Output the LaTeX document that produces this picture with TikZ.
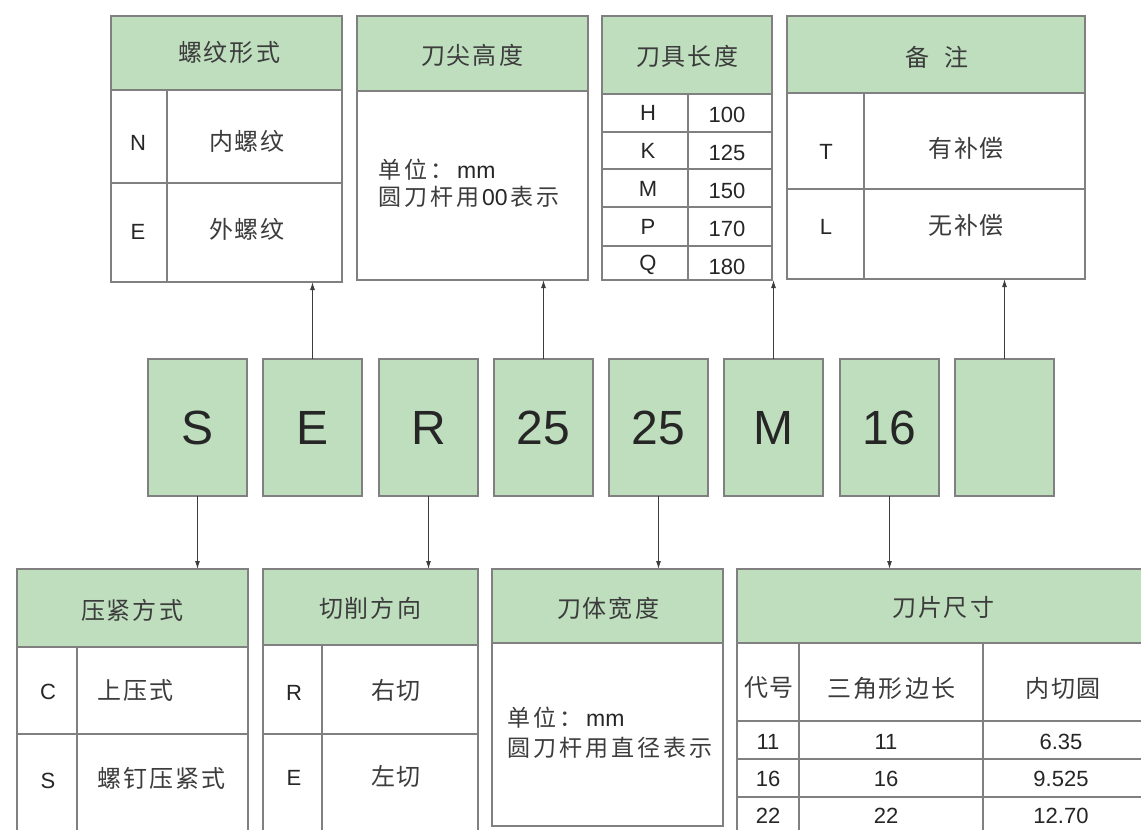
\documentclass[tikz,border=0pt]{standalone}
\usepackage{fontspec}
\setmainfont{Liberation Sans}
\newfontfamily\cjk{Noto Sans CJK SC}
\usetikzlibrary{arrows.meta}
\definecolor{hdrgreen}{RGB}{190,222,190}
\definecolor{linegray}{RGB}{128,128,128}
\definecolor{txt}{RGB}{38,38,38}
\definecolor{cjktxt}{RGB}{60,60,60}
\definecolor{arrgray}{RGB}{60,60,60}
\def\mykern{2pt}
\def\mylsB#1#2{#1\ifx#2\relax\else\kern\mykern\expandafter\mylsB\expandafter#2\fi}
\newcommand\myls[1]{\mylsB#1\relax}
\tikzset{
  cellbox/.style={draw=linegray, line width=1.1pt, inner sep=0pt, outer sep=0pt, anchor=north west},
  hd/.style={cellbox, fill=hdrgreen},
  cl/.style={cellbox, fill=white},
  codebox/.style={cellbox, fill=hdrgreen, minimum width=99pt, minimum height=137pt,
     font=\fontsize{48}{50}\selectfont, text=txt},
  cn/.style={inner sep=0pt, text=cjktxt, font=\cjk\fontsize{24}{28}\selectfont},
  lt/.style={inner sep=0pt, text=txt, font=\fontsize{22}{26}\selectfont},
  note/.style={inner sep=0pt, anchor=west, text=txt, font=\fontsize{23}{27}\selectfont\def\mykern{3pt}},
  arr/.style={draw=arrgray, line width=1pt, -{Latex[length=8pt,width=5pt]}}
}
\begin{document}
\begin{tikzpicture}[x=1pt,y=-1pt]
\path[use as bounding box] (0,0) rectangle (1141,830);
\clip (0,0) rectangle (1141,830);

% ---------- Table 1: 螺纹形式 ----------
\node[hd, minimum width=231pt, minimum height=74pt] (t1h) at (111,16) {};
\node[cl, minimum width=56pt, minimum height=93pt] (t1a1) at (111,90) {};
\node[cl, minimum width=175pt, minimum height=93pt] (t1b1) at (167,90) {};
\node[cl, minimum width=56pt, minimum height=99pt] (t1a2) at (111,183) {};
\node[cl, minimum width=175pt, minimum height=99pt] (t1b2) at (167,183) {};
\node[cn] (t1ht) at (229,52) {\myls{螺纹形式}};
\node[lt] (t1n) at (138,143) {N};
\node[cn] (t1nt) at (247,141) {\myls{内螺纹}};
\node[lt] (t1e) at (138,232) {E};
\node[cn] (t1et) at (247,229) {\myls{外螺纹}};

% ---------- Table 2: 刀尖高度 ----------
\node[hd, minimum width=231pt, minimum height=75pt] (t2h) at (357,16) {};
\node[cl, minimum width=231pt, minimum height=189pt] (t2b) at (357,91) {};
\node[cn] (t2ht) at (472,55) {\myls{刀尖高度}};
\node[note] (t2l1) at (378,170) {{\cjk\color{cjktxt}\myls{单位：}}\kern4pt mm};
\node[note] (t2l2) at (378,197) {{\cjk\color{cjktxt}\myls{圆刀杆用}}\kern3pt 00\kern3pt{\cjk\color{cjktxt}\myls{表示}}};

% ---------- Table 3: 刀具长度 ----------
\node[hd, minimum width=170pt, minimum height=78pt] (t3h) at (602,16) {};
\node[cl, minimum width=86pt, minimum height=38pt] (t3a1) at (602,94) {};
\node[cl, minimum width=84pt, minimum height=38pt] (t3b1) at (688,94) {};
\node[cl, minimum width=86pt, minimum height=37pt] (t3a2) at (602,132) {};
\node[cl, minimum width=84pt, minimum height=37pt] (t3b2) at (688,132) {};
\node[cl, minimum width=86pt, minimum height=38pt] (t3a3) at (602,169) {};
\node[cl, minimum width=84pt, minimum height=38pt] (t3b3) at (688,169) {};
\node[cl, minimum width=86pt, minimum height=39pt] (t3a4) at (602,207) {};
\node[cl, minimum width=84pt, minimum height=39pt] (t3b4) at (688,207) {};
\node[cl, minimum width=86pt, minimum height=34pt] (t3a5) at (602,246) {};
\node[cl, minimum width=84pt, minimum height=34pt] (t3b5) at (688,246) {};
\node[cn] (t3ht) at (687,56) {\myls{刀具长度}};
\node[lt] (t3k1) at (648,113) {H};
\node[lt] (t3v1) at (727,115) {100};
\node[lt] (t3k2) at (648,151) {K};
\node[lt] (t3v2) at (727,153) {125};
\node[lt] (t3k3) at (648,189) {M};
\node[lt] (t3v3) at (727,191) {150};
\node[lt] (t3k4) at (648,227) {P};
\node[lt] (t3v4) at (727,229) {170};
\node[lt] (t3k5) at (648,265) {Q};
\node[lt] (t3v5) at (727,267) {180};

% ---------- Table 4: 备注 ----------
\node[hd, minimum width=298pt, minimum height=77pt] (t4h) at (787,16) {};
\node[cl, minimum width=77pt, minimum height=96pt] (t4a1) at (787,93) {};
\node[cl, minimum width=221pt, minimum height=96pt] (t4b1) at (864,93) {};
\node[cl, minimum width=77pt, minimum height=90pt] (t4a2) at (787,189) {};
\node[cl, minimum width=221pt, minimum height=90pt] (t4b2) at (864,189) {};
\node[cn] (t4ht) at (937,57) {备\kern16pt注};
\node[lt] (t4t) at (826,152) {T};
\node[cn] (t4tt) at (966,148) {\myls{有补偿}};
\node[lt] (t4l) at (826,227) {L};
\node[cn] (t4lt) at (966,225) {\myls{无补偿}};

% ---------- Code boxes ----------
\node[codebox] (cS) at (148,359) {S};
\node[codebox] (cE) at (263,359) {E};
\node[codebox] (cR) at (379,359) {R};
\node[codebox] (cH) at (494,359) {25};
\node[codebox] (cW) at (609,359) {25};
\node[codebox] (cM) at (724,359) {M};
\node[codebox] (cI) at (840,359) {16};
\node[codebox] (cX) at (955,359) {};

% ---------- Bottom table 1: 压紧方式 ----------
\node[hd, minimum width=231pt, minimum height=78pt] (b1h) at (17,569) {};
\node[cl, minimum width=60pt, minimum height=87pt] (b1a1) at (17,647) {};
\node[cl, minimum width=171pt, minimum height=87pt] (b1b1) at (77,647) {};
\node[cl, minimum width=60pt, minimum height=110pt] (b1a2) at (17,734) {};
\node[cl, minimum width=171pt, minimum height=110pt] (b1b2) at (77,734) {};
\node[cn] (b1ht) at (132,610) {\myls{压紧方式}};
\node[lt] (b1c) at (48,692) {C};
\node[cn, anchor=west] (b1ct) at (97,690) {\myls{上压式}};
\node[lt] (b1s) at (48,781) {S};
\node[cn, anchor=west] (b1st) at (97,778) {\myls{螺钉压紧式}};

% ---------- Bottom table 2: 切削方向 ----------
\node[hd, minimum width=215pt, minimum height=76pt] (b2h) at (263,569) {};
\node[cl, minimum width=59pt, minimum height=89pt] (b2a1) at (263,645) {};
\node[cl, minimum width=156pt, minimum height=89pt] (b2b1) at (322,645) {};
\node[cl, minimum width=59pt, minimum height=110pt] (b2a2) at (263,734) {};
\node[cl, minimum width=156pt, minimum height=110pt] (b2b2) at (322,734) {};
\node[cn] (b2ht) at (370,608) {\myls{切削方向}};
\node[lt] (b2r) at (294,693) {R};
\node[cn] (b2rt) at (396,690) {\myls{右切}};
\node[lt] (b2e) at (294,778) {E};
\node[cn] (b2et) at (396,776) {\myls{左切}};

% ---------- Bottom table 3: 刀体宽度 ----------
\node[hd, minimum width=231pt, minimum height=74pt] (b3h) at (492,569) {};
\node[cl, minimum width=231pt, minimum height=183pt] (b3b) at (492,643) {};
\node[cn] (b3ht) at (608,608) {\myls{刀体宽度}};
\node[note] (b3l1) at (507,718) {{\cjk\color{cjktxt}\myls{单位：}}\kern4pt mm};
\node[note] (b3l2) at (507,748) {{\cjk\color{cjktxt}\myls{圆刀杆用直径表示}}};

% ---------- Bottom table 4: 刀片尺寸 ----------
\node[hd, minimum width=412pt, minimum height=74pt] (b4h) at (737,569) {};
\node[cl, minimum width=62pt, minimum height=78pt] (b4a0) at (737,643) {};
\node[cl, minimum width=184pt, minimum height=78pt] (b4b0) at (799,643) {};
\node[cl, minimum width=166pt, minimum height=78pt] (b4c0) at (983,643) {};
\node[cl, minimum width=62pt, minimum height=38pt] (b4a1) at (737,721) {};
\node[cl, minimum width=184pt, minimum height=38pt] (b4b1) at (799,721) {};
\node[cl, minimum width=166pt, minimum height=38pt] (b4c1) at (983,721) {};
\node[cl, minimum width=62pt, minimum height=38pt] (b4a2) at (737,759) {};
\node[cl, minimum width=184pt, minimum height=38pt] (b4b2) at (799,759) {};
\node[cl, minimum width=166pt, minimum height=38pt] (b4c2) at (983,759) {};
\node[cl, minimum width=62pt, minimum height=53pt] (b4a3) at (737,797) {};
\node[cl, minimum width=184pt, minimum height=53pt] (b4b3) at (799,797) {};
\node[cl, minimum width=166pt, minimum height=53pt] (b4c3) at (983,797) {};
\node[cn] (b4ht) at (943,607) {\myls{刀片尺寸}};
\node[cn] (b4k0) at (769,688) {\myls{代号}};
\node[cn] (b4s0) at (891,688) {\myls{三角形边长}};
\node[cn] (b4d0) at (1063,688) {\myls{内切圆}};
\node[lt] (b4k1) at (768,742) {11};
\node[lt] (b4s1) at (886,742) {11};
\node[lt] (b4d1) at (1061,742) {6.35};
\node[lt] (b4k2) at (768,779) {16};
\node[lt] (b4s2) at (886,779) {16};
\node[lt] (b4d2) at (1061,779) {9.525};
\node[lt] (b4k3) at (768,816) {22};
\node[lt] (b4s3) at (886,816) {22};
\node[lt] (b4d3) at (1061,816) {12.70};

% ---------- Arrows ----------
\draw[arr] (cE.north) -- (cE.north |- t1b2.south);
\draw[arr] (cH.north) -- (cH.north |- t2b.south);
\draw[arr] (cM.north) -- (cM.north |- t3b5.south);
\draw[arr] (cX.north) -- (cX.north |- t4b2.south);
\draw[arr] (cS.south) -- (cS.south |- b1h.north);
\draw[arr] (cR.south) -- (cR.south |- b2h.north);
\draw[arr] (cW.south) -- (cW.south |- b3h.north);
\draw[arr] (cI.south) -- (cI.south |- b4h.north);
\end{tikzpicture}
\end{document}
